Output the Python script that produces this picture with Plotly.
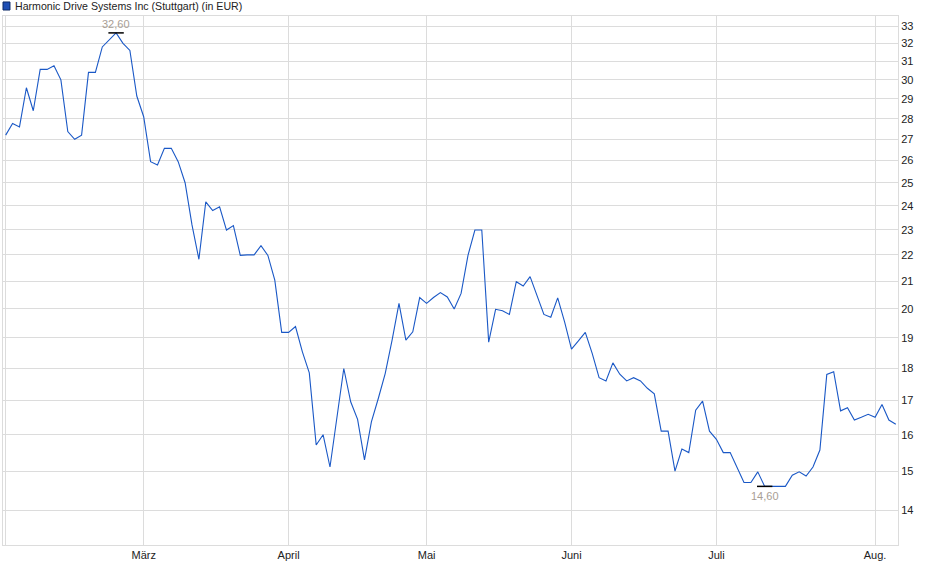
import math
import pandas as pd
import plotly.graph_objects as go

# --- data: Harmonic Drive Systems Inc (Stuttgart), daily close in EUR ---
holidays = ["2025-04-18", "2025-04-21", "2025-05-01"]
dates = [d.strftime("%Y-%m-%d") for d in pd.bdate_range("2025-02-03", "2025-08-06")
         if d.strftime("%Y-%m-%d") not in holidays]

prices = [
    27.2, 27.77, 27.6, 29.58, 28.4, 30.56, 30.56, 30.76, 30.0, 27.37,
    27.0, 27.2, 30.4, 30.4, 31.8, 32.2, 32.6, 32.0, 31.6, 29.15,
    28.1, 25.95, 25.8, 26.57, 26.57, 25.95, 25.0, 23.2, 21.83, 24.17,
    23.8, 23.96, 22.99, 23.17, 21.98, 22.0, 22.0, 22.36, 21.98, 21.04,
    19.18, 19.18, 19.38, 18.53, 17.85, 15.71, 16.0, 15.11, 16.5, 17.99,
    16.96, 16.44, 15.3, 16.37, 17.06, 17.83, 18.92, 20.19, 18.92, 19.2,
    20.4, 20.19, 20.4, 20.58, 20.42, 19.99, 20.55, 21.98, 22.99, 22.99,
    18.85, 19.98, 19.93, 19.8, 20.98, 20.82, 21.17, 20.49, 19.8, 19.7,
    20.39, 19.54, 18.62, 18.89, 19.18, 18.48, 17.7, 17.6, 18.17, 17.81,
    17.6, 17.7, 17.6, 17.37, 17.2, 16.1, 16.1, 15.0, 15.6, 15.5,
    16.71, 16.98, 16.1, 15.87, 15.5, 15.5, 15.09, 14.7, 14.7, 14.98,
    14.6, 14.6, 14.6, 14.6, 14.89, 14.98, 14.87, 15.11, 15.57, 17.8,
    17.89, 16.69, 16.78, 16.42, 16.5, 16.59, 16.5, 16.88, 16.42, 16.3,
]

month_ticks = ["2025-02-03", "2025-03-03", "2025-04-01", "2025-05-02",
               "2025-06-02", "2025-07-01", "2025-08-01"]
month_labels = ["", "März", "April", "Mai", "Juni", "Juli", "Aug."]
price_ticks = list(range(14, 34))

title = "Harmonic Drive Systems Inc (Stuttgart) (in EUR)"

line_color = "#1a58c6"
grid_color = "#dcdcdc"
label_color = "#a89e94"

i_max = prices.index(max(prices))
i_min = prices.index(min(prices))

fig = go.Figure()
fig.add_trace(go.Scatter(
    x=dates, y=prices, mode="lines",
    line=dict(color=line_color, width=1.1),
    showlegend=False, hoverinfo="x+y",
))
# little black marks on the high and the low
fig.add_trace(go.Scatter(
    x=[dates[i_max], dates[i_min]], y=[prices[i_max], prices[i_min]],
    mode="markers",
    marker=dict(symbol="line-ew", size=11, line=dict(color="black", width=1.5)),
    showlegend=False, hoverinfo="skip",
))

fmt = lambda v: f"{v:.2f}".replace(".", ",")
fig.add_annotation(x=dates[i_max], y=math.log10(prices[i_max]), text=fmt(prices[i_max]),
                   showarrow=False, yshift=9, font=dict(size=11, color=label_color))
fig.add_annotation(x=dates[i_min], y=math.log10(prices[i_min]), text=fmt(prices[i_min]),
                   showarrow=False, yshift=-10, font=dict(size=11, color=label_color))

# legend-like header
fig.add_shape(type="rect", xref="paper", yref="paper",
              x0=0.0, x1=0.0078, y0=1.0113, y1=1.0265,
              fillcolor="#1f4fb4", line=dict(color="#0d2a66", width=1))
fig.add_annotation(xref="paper", yref="paper", x=0.0112, y=1.019,
                   xanchor="left", yanchor="middle", text=title, showarrow=False,
                   font=dict(size=10.6, color="#222222"))

n = len(dates)
fig.update_layout(
    width=940, height=579,
    margin=dict(l=3, r=42, t=16, b=34),
    paper_bgcolor="white", plot_bgcolor="white",
    font=dict(family="Liberation Sans, Arial, sans-serif", size=11, color="#222222"),
    xaxis=dict(
        type="category", range=[-0.39, n - 1 + 0.32],
        tickmode="array", tickvals=month_ticks, ticktext=month_labels,
        showgrid=True, gridcolor=grid_color, gridwidth=1,
        showline=True, linecolor=grid_color, linewidth=1, mirror=True,
        ticks="", zeroline=False,
    ),
    yaxis=dict(
        type="log", side="right",
        range=[math.log10(13.16), math.log10(33.59)],
        tickmode="array", tickvals=price_ticks, ticktext=[str(t) for t in price_ticks],
        showgrid=True, gridcolor=grid_color, gridwidth=1,
        showline=True, linecolor=grid_color, linewidth=1, mirror=True,
        ticks="", zeroline=False,
    ),
)

fig.write_html("out.html", config={"displayModeBar": False},
               post_script="document.body.style.margin='0';")
